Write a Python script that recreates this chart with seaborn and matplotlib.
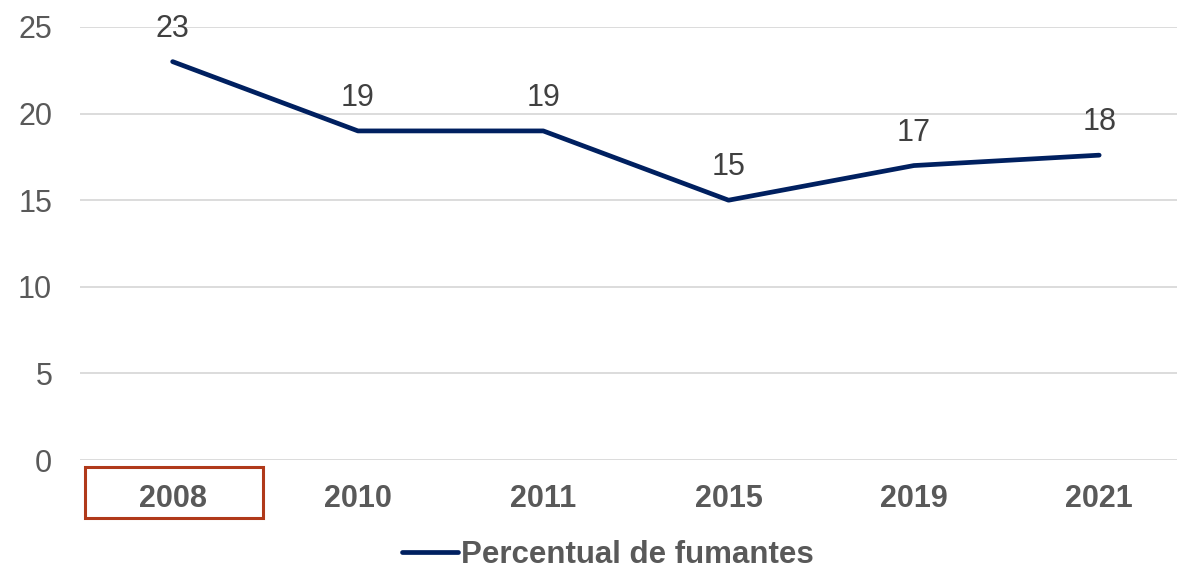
import matplotlib
matplotlib.use("Agg")
import matplotlib.pyplot as plt
import seaborn as sns
import pandas as pd
from matplotlib.patches import Rectangle

years = ["2008", "2010", "2011", "2015", "2019", "2021"]
values = [23, 19, 19, 15, 17, 17.6]
labels = ["23", "19", "19", "15", "17", "18"]
yticks = [0, 5, 10, 15, 20, 25]
series_name = "Percentual de fumantes"

sns.set_theme(style="white")
plt.rcParams['font.family'] = ['Liberation Sans', 'DejaVu Sans']

W, H = 1177, 569
fig = plt.figure(figsize=(W / 100, H / 100), dpi=100)
ax = fig.add_axes([80 / W, (H - 460) / H, (1177 - 80) / W, (460 - 27) / H])

df = pd.DataFrame({"x": range(len(years)), "y": values, "s": series_name})
sns.lineplot(data=df, x="x", y="y", hue="s", palette=["#002060"], linewidth=3.4,
             ax=ax, solid_capstyle="round", solid_joinstyle="round")

ax.set_xlim(-0.5, 5.42)
ax.set_ylim(0, 25)
ax.set_yticks(yticks)
ax.set_yticklabels([str(t) for t in yticks], fontsize=22, color="#595959")
ax.set_xticks(range(len(years)))
ax.set_xticklabels(years, fontsize=22, fontweight="bold", color="#595959")
ax.tick_params(axis="both", length=0)
ax.tick_params(axis="x", pad=17)
ax.tick_params(axis="y", pad=20)
ax.set_xlabel("")
ax.set_ylabel("")
ax.grid(axis="y", color="#d9d9d9", linewidth=1.3)
ax.grid(axis="x", visible=False)
for s in ax.spines.values():
    s.set_visible(False)

for i, (v, t) in enumerate(zip(values, labels)):
    ax.annotate(t, (i, v), xytext=(0, 13), textcoords="offset points",
                ha="center", va="bottom", fontsize=22, color="#404040")

# highlight box around first category label
box = Rectangle((85 / W, (H - 518) / H), (263 - 85) / W, (518 - 467) / H,
                transform=fig.transFigure, fill=False, edgecolor="#B0391A",
                linewidth=2.2, clip_on=False)
fig.patches.append(box)

leg = ax.legend(loc="center", bbox_to_anchor=(608 / W, (H - 555) / H),
                bbox_transform=fig.transFigure, frameon=False, handlelength=1.8,
                handletextpad=0.1, borderpad=0.1, prop={"size": 22.5, "weight": "bold"})
for txt in leg.get_texts():
    txt.set_color("#595959")

fig.savefig("out.png", dpi=100)
